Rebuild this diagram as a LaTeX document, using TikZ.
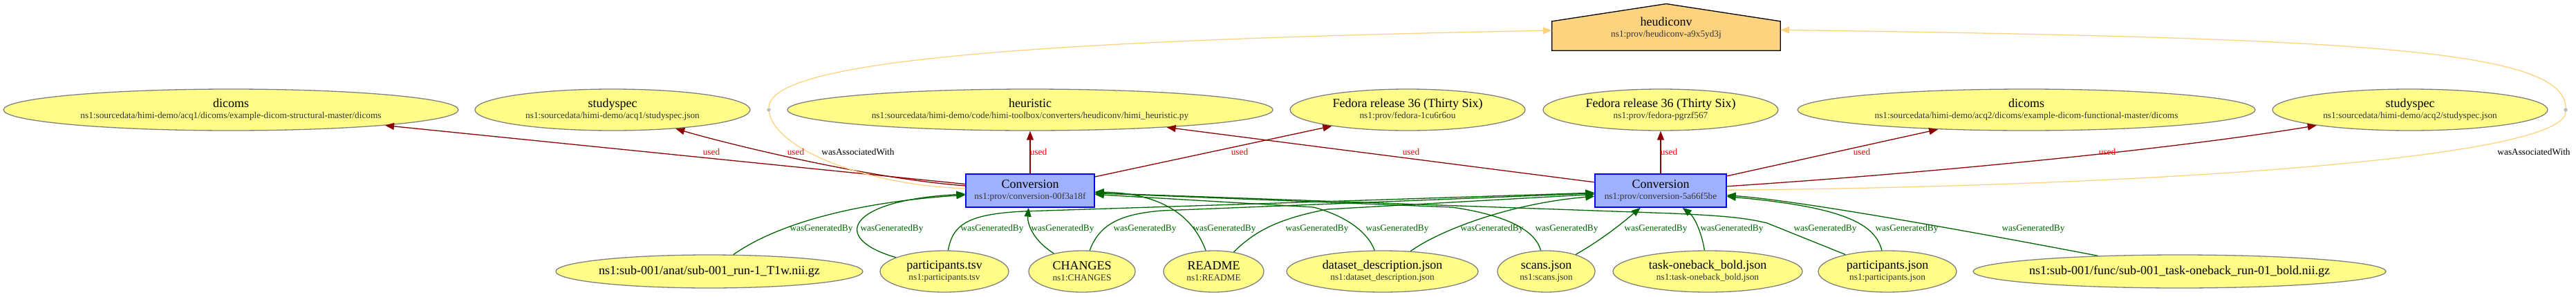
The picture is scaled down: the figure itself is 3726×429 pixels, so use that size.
\documentclass[tikz,border=0pt]{standalone}
\usepackage{fontspec}
\setmainfont{Liberation Serif}
\usepackage{xcolor}
\usepackage{tikz}
\usetikzlibrary{arrows.meta, shapes.geometric, backgrounds}

\definecolor{entFill}{HTML}{FFFC87}
\definecolor{entLine}{HTML}{808080}
\definecolor{actFill}{HTML}{9FB1FC}
\definecolor{actLine}{HTML}{0000FF}
\definecolor{agtFill}{HTML}{FED37F}
\definecolor{usedRed}{HTML}{8B0000}
\definecolor{genGreen}{HTML}{006400}
\definecolor{subGray}{HTML}{333333}
\definecolor{bnodeGray}{HTML}{BEBEBE}

\newcommand{\ttlfont}{\fontsize{18}{20}\selectfont}
\newcommand{\provtxt}[2]{\makebox[0pt]{\ttlfont #1}\\\makebox[0pt]{\color{subGray}#2}}

\tikzset{
    entity/.style={ellipse, draw=entLine, fill=entFill, line width=1.3pt, inner sep=0pt, align=center, minimum height=60pt, font=\fontsize{13.3}{16}\selectfont},
    activity/.style={rectangle, draw=actLine, fill=actFill, line width=1.3pt, inner sep=0pt, align=center, minimum height=48pt, font=\fontsize{13.3}{16}\selectfont},
    agentBox/.style={rectangle, inner sep=0pt, align=center, minimum width=330pt, minimum height=64pt, font=\fontsize{13.3}{16}\selectfont},
    agentShape/.style={draw=black, fill=agtFill, line width=1.3pt},
    bnode/.style={circle, fill=bnodeGray, draw=bnodeGray, inner sep=0pt, minimum size=5pt},
    usedEdge/.style={draw=usedRed, line width=1.3pt, ->},
    genEdge/.style={draw=genGreen, line width=1.3pt, ->},
    assocEdge/.style={draw=agtFill, line width=1.3pt},
    usedText/.style={text=red, inner sep=0pt, font=\fontsize{13.3}{16}\selectfont},
    genText/.style={text=genGreen, inner sep=0pt, font=\fontsize{13.3}{16}\selectfont},
    assocText/.style={text=black, inner sep=0pt, font=\fontsize{13.3}{16}\selectfont}
}

\begin{document}
\begin{tikzpicture}[x=1pt, y=1pt, >={Triangle[length=13pt, width=10pt]}]
    \useasboundingbox (0,0) rectangle (3726,-429);

    % agent
    \node[agentBox] (heudiconv) at (2410,-41) {\provtxt{heudiconv}{ns1:prov/heudiconv-a9x5yd3j}};
    \begin{scope}[on background layer]
        \filldraw[agentShape] (heudiconv.south west) -- ([yshift=-22pt]heudiconv.north west) -- ([yshift=3.3pt]heudiconv.north) -- ([yshift=-22pt]heudiconv.north east) -- (heudiconv.south east) -- cycle;
    \end{scope}

    % used entities
    \node[entity, minimum width=658pt] (dicomsA) at (334,-159) {\provtxt{dicoms}{ns1:sourcedata/himi-demo/acq1/dicoms/example-dicom-structural-master/dicoms}};
    \node[entity, minimum width=398pt] (studyA) at (886,-159) {\provtxt{studyspec}{ns1:sourcedata/himi-demo/acq1/studyspec.json}};
    \node[bnode] (ptA) at (1112,-159) {};
    \node[entity, minimum width=702pt] (heurA) at (1490,-159) {\provtxt{heuristic}{ns1:sourcedata/himi-demo/code/himi-toolbox/converters/heudiconv/himi\_heuristic.py}};
    \node[entity, minimum width=340pt] (fedA) at (2036,-159) {\provtxt{Fedora release 36 (Thirty Six)}{ns1:prov/fedora-1cu6r6ou}};
    \node[entity, minimum width=340pt] (fedB) at (2402,-159) {\provtxt{Fedora release 36 (Thirty Six)}{ns1:prov/fedora-pgrzf567}};
    \node[entity, minimum width=662pt] (dicomsB) at (2931,-159) {\provtxt{dicoms}{ns1:sourcedata/himi-demo/acq2/dicoms/example-dicom-functional-master/dicoms}};
    \node[entity, minimum width=398pt] (studyB) at (3486,-159) {\provtxt{studyspec}{ns1:sourcedata/himi-demo/acq2/studyspec.json}};
    \node[bnode] (ptB) at (3711,-159) {};

    % activities
    \node[activity, minimum width=186pt] (convA) at (1490,-276) {\provtxt{Conversion}{ns1:prov/conversion-00f3a18f}};
    \node[activity, minimum width=190pt] (convB) at (2402,-276) {\provtxt{Conversion}{ns1:prov/conversion-5a66f5be}};

    % generated entities
    \node[entity, minimum width=444pt, minimum height=48pt] (t1w) at (1026,-393) {\makebox[0pt]{\ttlfont ns1:sub-001/anat/sub-001\_run-1\_T1w.nii.gz}};
    \node[entity, minimum width=186pt] (ptsv) at (1366,-393) {\provtxt{participants.tsv}{ns1:participants.tsv}};
    \node[entity, minimum width=154pt] (changes) at (1565,-393) {\provtxt{CHANGES}{ns1:CHANGES}};
    \node[entity, minimum width=145pt] (readme) at (1755.5,-393) {\provtxt{README}{ns1:README}};
    \node[entity, minimum width=277pt] (dd) at (1999.5,-393) {\provtxt{dataset\_description.json}{ns1:dataset\_description.json}};
    \node[entity, minimum width=141pt] (scans) at (2236.5,-393) {\provtxt{scans.json}{ns1:scans.json}};
    \node[entity, minimum width=274pt] (task) at (2470,-393) {\provtxt{task-oneback\_bold.json}{ns1:task-oneback\_bold.json}};
    \node[entity, minimum width=200pt] (pjson) at (2730,-393) {\provtxt{participants.json}{ns1:participants.json}};
    \node[entity, minimum width=597pt, minimum height=48pt] (bold) at (3152.5,-393) {\makebox[0pt]{\ttlfont ns1:sub-001/func/sub-001\_task-oneback\_run-01\_bold.nii.gz}};

    % used
    \draw[usedEdge] (convA) -- (dicomsA);
    \draw[usedEdge] (convA) .. controls (1250,-258) and (1040,-205) .. (studyA);
    \draw[usedEdge] (convA) -- (heurA);
    \draw[usedEdge] (convA) -- (fedA);
    \draw[usedEdge] (convB) -- (heurA);
    \draw[usedEdge] (convB) -- (fedB);
    \draw[usedEdge] (convB) -- (dicomsB);
    \draw[usedEdge] (convB) .. controls (2800,-250) and (3150,-215) .. (studyB);

    % wasAssociatedWith
    \draw[assocEdge] (convA) .. controls (1250,-268) and (1120,-215) .. (ptA);
    \draw[assocEdge, ->] (ptA) .. controls (1112,-95) and (1400,-60) .. (heudiconv);
    \draw[assocEdge] (convB) .. controls (3100,-270) and (3711,-230) .. (ptB);
    \draw[assocEdge, ->] (ptB) .. controls (3711,-70) and (3400,-55) .. (heudiconv);

    % wasGeneratedBy
    \draw[genEdge] (t1w) .. controls (1130,-320) and (1250,-292) .. (convA);
    \draw[genEdge] (ptsv) .. controls (1200,-345) and (1225,-290) .. (convA);
    \draw[genEdge] (ptsv) .. controls (1378,-325) and (1400,-310) .. (1480,-306) -- (convB);
    \draw[genEdge] (changes) .. controls (1490,-345) and (1486,-320) .. (convA);
    \draw[genEdge] (changes) .. controls (1590,-325) and (1620,-310) .. (1680,-305) -- (convB);
    \draw[genEdge] (readme) .. controls (1728,-320) and (1690,-280) .. (convA);
    \draw[genEdge] (readme) .. controls (1810,-340) and (1840,-318) .. (1920,-303) -- (convB);
    \draw[genEdge] (dd) .. controls (1978,-335) and (1945,-312) .. (1900,-300) -- (convA);
    \draw[genEdge] (dd) .. controls (2080,-335) and (2180,-295) .. (convB);
    \draw[genEdge] (scans) .. controls (2220,-330) and (2170,-310) .. (2100,-300) -- (convA);
    \draw[genEdge] (scans) .. controls (2320,-345) and (2350,-320) .. (convB);
    \draw[genEdge] (task) .. controls (2462,-340) and (2452,-315) .. (convB);
    \draw[genEdge] (pjson) -- (2556,-323) .. controls (2520,-314) and (2480,-312) .. (2420,-309) -- (convA);
    \draw[genEdge] (pjson) .. controls (2712,-325) and (2670,-300) .. (convB);
    \draw[genEdge] (bold) .. controls (2850,-335) and (2600,-290) .. (convB);

    % Labels
    \node[usedText] (uA1) at (1029,-220) {used};
    \node[usedText] (uA2) at (1151,-220) {used};
    \node[assocText] (aA) at (1241,-220) {wasAssociatedWith};
    \node[usedText] (uA3) at (1502,-220) {used};
    \node[usedText] (uA4) at (1793,-220) {used};
    \node[usedText] (uB1) at (2041,-220) {used};
    \node[usedText] (uB2) at (2414,-220) {used};
    \node[usedText] (uB3) at (2693,-220) {used};
    \node[usedText] (uB4) at (3048,-220) {used};
    \node[assocText] (aB) at (3665,-220) {wasAssociatedWith};

    \foreach \gx in {1188, 1290, 1435, 1537, 1656, 1771, 1905, 2021, 2158, 2266, 2395, 2505, 2640, 2758, 2941}
        \node[genText] (g\gx) at (\gx,-331) {wasGeneratedBy};
\end{tikzpicture}
\end{document}
